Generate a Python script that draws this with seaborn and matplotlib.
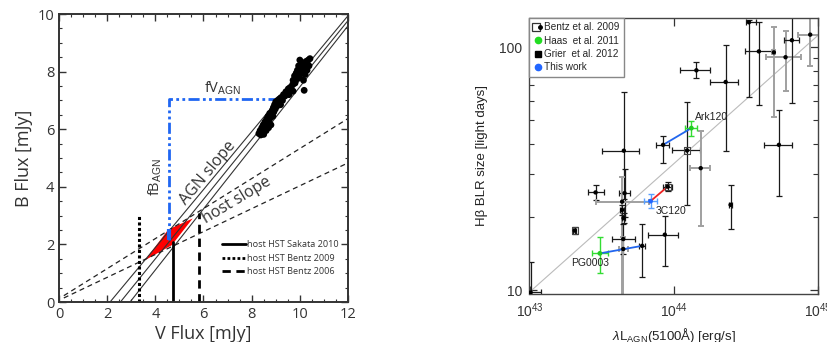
import numpy as np
import pandas as pd
import matplotlib
matplotlib.use("Agg")
import matplotlib.pyplot as plt
import seaborn as sns
from matplotlib.lines import Line2D
from matplotlib.ticker import MultipleLocator, NullFormatter, FixedLocator
from matplotlib.legend_handler import HandlerTuple

# ---------------- Left panel data ----------------
v_flux = [8.30, 8.35, 8.38, 8.42, 8.45, 8.48, 8.50, 8.52, 8.55, 8.58, 8.60, 8.62, 8.65, 8.68,
          8.70, 8.72, 8.75, 8.78, 8.80, 8.82, 8.85, 8.88, 8.90, 8.92, 8.95, 8.98, 9.00, 9.05,
          9.08, 9.10, 9.15, 9.20, 9.22, 9.28, 9.32, 9.38, 9.42, 9.48, 9.52, 9.55, 9.60, 9.65,
          9.70, 9.72, 9.72, 9.78, 9.80, 9.85, 9.88, 9.90, 9.92, 9.95, 9.98, 10.00, 10.02, 10.05,
          10.08, 10.10, 10.12, 10.15, 10.18, 10.20, 10.22, 10.25, 10.30, 10.35, 10.38, 10.42]
b_flux = [5.85, 5.95, 5.80, 6.05, 5.90, 6.15, 5.82, 6.00, 6.25, 6.10, 5.95, 6.35, 6.20, 6.45,
          6.05, 6.30, 6.55, 6.40, 6.15, 6.50, 6.65, 6.45, 6.75, 6.60, 6.85, 6.70, 6.95, 6.80,
          7.00, 6.90, 7.05, 6.85, 7.10, 7.00, 7.20, 7.15, 7.30, 7.25, 7.40, 7.20, 7.45, 7.35,
          7.55, 7.32, 7.70, 7.85, 7.60, 7.95, 7.75, 8.05, 7.90, 8.20, 7.80, 8.40, 8.10, 7.95,
          8.30, 8.00, 8.25, 7.70, 7.35, 8.15, 7.90, 8.35, 8.05, 8.40, 8.20, 8.45]

agn_x0 = [2.12, 2.55, 2.95]       # V where AGN-slope lines cross B=0
agn_yend = [9.94, 9.77, 9.59]     # B at V=12
host_x0 = [0.2, 0.2]
host_y0 = [0.22, 0.14]
host_yend = [6.37, 4.83]

host_v = [4.72, 3.32, 5.82]       # Sakata 2010, Bentz 2009, Bentz 2006
host_top = [2.09, 3.02, 3.08]
host_labels = ["host HST Sakata 2010", "host HST Bentz 2009", "host HST Bentz 2006"]
host_styles = ["-", ":", "--"]

agn_corner_v = [4.58, 4.58, 9.14]
agn_corner_b = [2.17, 7.06, 7.06]
blue_seg_b = [2.17, 2.52]

red_v = [3.57, 4.54, 5.55, 4.68]
red_b = [1.45, 2.52, 2.90, 1.97]

# ---------------- Right panel data ----------------
logL = [43.008, 43.313, 43.458, 43.488, 43.781, 43.654, 43.659, 43.642, 43.642, 43.652,
        43.650, 43.650, 43.839, 43.958, 43.938, 44.092, 44.187, 44.394, 44.729, 44.122,
        43.926, 44.157, 44.360, 44.521, 44.590, 44.694, 44.775, 44.819, 44.946]
logR = [0.990, 1.245, 1.402, 1.151, 1.182, 1.574, 1.399, 1.364, 1.330, 1.296,
        1.210, 1.169, 1.366, 1.426, 1.228, 1.575, 1.502, 1.351, 1.598, 1.667,
        1.598, 1.905, 1.857, 2.103, 1.983, 1.979, 1.959, 2.029, 2.052]
dx_lo = [0.03, 0.012, 0.055, 0.053, 0.023, 0.154, 0.040, 0.184, 0.015, 0.008,
         0.077, 0.03, 0.047, 0.030, 0.116, 0.101, 0.071, 0.010, 0.104, 0.046,
         0.046, 0.111, 0.106, 0.023, 0.094, 0.010, 0.138, 0.056, 0.086]
dx_hi = [0.07, 0.012, 0.056, 0.057, 0.023, 0.104, 0.040, 0.185, 0.015, 0.008,
         0.080, 0.03, 0.045, 0.030, 0.092, 0.088, 0.062, 0.010, 0.093, 0.042,
         0.041, 0.097, 0.085, 0.050, 0.097, 0.010, 0.109, 0.048, 0.064]
dy_lo = [0.05, 0.015, 0.033, 0.082, 0.130, 0.20, 0.10, 0.40, 0.02, 0.02,
         0.06, 0.20, 0.030, 0.020, 0.129, 0.224, 0.238, 0.100, 0.210, 0.034,
         0.073, 0.031, 0.283, 0.308, 0.220, 0.266, 0.141, 0.259, 0.130]
dy_hi = [0.124, 0.015, 0.030, 0.066, 0.089, 0.240, 0.10, 0.10, 0.02, 0.02,
         0.06, 0.05, 0.029, 0.020, 0.075, 0.198, 0.155, 0.082, 0.145, 0.028,
         0.038, 0.033, 0.154, 0.011, 0.120, 0.105, 0.107, 0.100, 0.100]
err_tone = ["k", "k", "k", "green", "k", "k", "k", "gray", "k", "k",
            "k", "gray", "blue", "k", "k", "k", "gray", "k", "k", "green",
            "k", "k", "k", "k", "k", "gray", "gray", "k", "gray"]
kind = ["dot", "box", "dot", "haas", "dot", "dot", "dot", "dot", "dot", "dot",
        "dot", "dot", "this", "box", "dot", "box", "dot", "dot", "dot", "haas",
        "dot", "dot", "dot", "dot", "dot", "dot", "dot", "dot", "dot"]
blue_links = [(3, 4), (19, 20)]
red_links = [(12, 13)]
rl_line_L = [1e43, 1e45]
rl_line_R = [9.8, 112.0]
name_labels = ["Ark120", "3C120", "PG0003"]
name_logL = [44.145, 43.873, 43.292]
name_logR = [1.714, 1.327, 1.113]
legend_labels = ["Bentz et al. 2009", "Haas  et al. 2011", "Grier  et al. 2012", "This work"]

# ---------------- Style ----------------
sns.set_style("ticks")
plt.rcParams['font.family'] = ['Open Sans', 'DejaVu Sans']
plt.rcParams['mathtext.fontset'] = 'custom'
plt.rcParams['mathtext.rm'] = 'Liberation Sans'
plt.rcParams['mathtext.it'] = 'Liberation Sans:italic'

fig = plt.figure(figsize=(8.28, 3.42), dpi=100)
axL = fig.add_axes([59 / 828, 1 - 302 / 342, 289 / 828, 288 / 342])
axR = fig.add_axes([529.5 / 828, 1 - 294 / 342, 288.5 / 828, 276 / 342])

# ---------- Left ----------
for x0, ye in zip(agn_x0, agn_yend):
    sns.lineplot(x=[x0, 12.0], y=[0.0, ye], ax=axL, color="#333333", lw=0.8, sort=False)
for x0, y0, ye in zip(host_x0, host_y0, host_yend):
    axL.plot([x0, 12.0], [y0, ye], color="#222222", lw=0.9, dashes=(4, 3))

axL.fill(red_v, red_b, color="red", lw=0)

for xv, top, ls in zip(host_v, host_top, host_styles):
    if ls == ":":
        axL.plot([xv, xv], [0, top], color="k", lw=2.2, ls=(0, (1, 0.8)))
    elif ls == "--":
        axL.plot([xv, xv], [0, top], color="k", lw=2.0, ls=(0, (3, 2)))
    else:
        axL.plot([xv, xv], [0, top], color="k", lw=2.0, ls="-")

blue = "#1f66f2"
axL.plot(agn_corner_v, agn_corner_b, color=blue, lw=2.0, ls=(0, (4, 1.2, 1, 1.2, 1, 1.2)))
axL.plot([agn_corner_v[0]] * 2, blue_seg_b, color=blue, lw=3.0, solid_capstyle="butt")

sns.scatterplot(x=v_flux, y=b_flux, ax=axL, color="k", s=24, edgecolor="none", zorder=5)

axL.text(6.02, 7.42, r"fV$_{\rm AGN}$", fontsize=10.5, color="#333333", ha="left", va="center")
axL.text(3.98, 4.35, r"fB$_{\rm AGN}$", fontsize=10.5, color="#333333", ha="center", va="center", rotation=90)
axL.text(6.2, 4.47, "AGN slope", fontsize=11.5, color="#333333", ha="center", va="center", rotation=50)
axL.text(7.37, 3.54, "host slope", fontsize=11.5, color="#333333", ha="center", va="center", rotation=31)

hL = []
for ls in host_styles:
    if ls == ":":
        hL.append(Line2D([], [], color="k", lw=2.0, ls=(0, (1, 0.8))))
    elif ls == "--":
        hL.append(Line2D([], [], color="k", lw=2.0, ls=(0, (3, 2))))
    else:
        hL.append(Line2D([], [], color="k", lw=2.0))
legL = axL.legend(hL, host_labels, loc="center left", bbox_to_anchor=(0.552, 0.152),
                  frameon=False, fontsize=6.6, handlelength=2.6, handletextpad=0.15,
                  labelspacing=0.5, borderaxespad=0, borderpad=0.4)
for t in legL.get_texts():
    t.set_color("#333333")

axL.set_xlim(0, 12)
axL.set_ylim(0, 10)
axL.xaxis.set_major_locator(MultipleLocator(2))
axL.yaxis.set_major_locator(MultipleLocator(2))
axL.xaxis.set_minor_locator(MultipleLocator(0.5))
axL.yaxis.set_minor_locator(MultipleLocator(0.5))
axL.tick_params(which="both", direction="in", top=True, right=True, colors="#333333", labelsize=10.5)
axL.tick_params(which="major", length=5, width=1)
axL.tick_params(which="minor", length=2.5, width=0.8)
for s in axL.spines.values():
    s.set_linewidth(1.4)
    s.set_color("#333333")
axL.set_xlabel("V Flux [mJy]", fontsize=13, color="#333333", labelpad=2)
axL.set_ylabel("B Flux [mJy]", fontsize=13, color="#333333", labelpad=3)

# ---------- Right ----------
L = 10 ** np.array(logL)
R = 10 ** np.array(logR)
xlo = L - 10 ** (np.array(logL) - np.array(dx_lo))
xhi = 10 ** (np.array(logL) + np.array(dx_hi)) - L
ylo = R - 10 ** (np.array(logR) - np.array(dy_lo))
yhi = 10 ** (np.array(logR) + np.array(dy_hi)) - R

axR.plot(rl_line_L, rl_line_R, color="#bbbbbb", lw=0.8, zorder=1)

tone_map = {"k": ("#1a1a1a", 0.9), "gray": ("#a0a0a0", 1.4), "green": ("#33dd33", 1.0),
            "blue": ("#5aa0ff", 1.0)}
for i in range(len(L)):
    c, lw = tone_map[err_tone[i]]
    axR.errorbar(L[i], R[i], xerr=[[xlo[i]], [xhi[i]]], yerr=[[ylo[i]], [yhi[i]]],
                 fmt="none", ecolor=c, elinewidth=lw, capsize=2.2, capthick=lw, zorder=2)

for a, b in blue_links:
    axR.plot([L[a], L[b]], [R[a], R[b]], color="#2266ee", lw=1.3, zorder=3)
for a, b in red_links:
    axR.plot([L[a], L[b]], [R[a], R[b]], color="#ee2222", lw=1.3, zorder=3)

df = pd.DataFrame({"L": L, "R": R, "kind": kind})
box = df[df.kind == "box"]
axR.scatter(box.L, box.R, marker="s", s=20, facecolor="none", edgecolor="#444444", lw=0.8, zorder=4)
sns.scatterplot(data=df[df.kind.isin(["dot", "box"])], x="L", y="R", ax=axR, color="k", s=10,
                edgecolor="none", zorder=5)
sns.scatterplot(data=df[df.kind == "haas"], x="L", y="R", ax=axR, color="#22cc22", s=12,
                edgecolor="none", zorder=5)
sns.scatterplot(data=df[df.kind == "this"], x="L", y="R", ax=axR, color="#2266ff", s=12,
                edgecolor="none", zorder=5)

for nm, lx, ly in zip(name_labels, name_logL, name_logR):
    axR.text(10 ** lx, 10 ** ly, nm, fontsize=7.5, family="Liberation Sans", color="#222222",
             ha="left", va="center")

axR.set_xscale("log")
axR.set_yscale("log")
axR.set_xlim(1e43, 1e45)
axR.set_ylim(9.63, 132)
axR.xaxis.set_major_locator(FixedLocator([1e43, 1e44, 1e45]))
axR.xaxis.set_minor_locator(FixedLocator([]))
axR.set_xticklabels([r"$10^{43}$", r"$10^{44}$", r"$10^{45}$"])
axR.yaxis.set_major_locator(FixedLocator([10, 100]))
axR.set_yticklabels(["10", "100"])
axR.yaxis.set_minor_locator(FixedLocator([20, 30, 40, 50, 60, 70, 80, 90]))
axR.yaxis.set_minor_formatter(NullFormatter())
axR.tick_params(which="both", direction="in", top=True, right=True, colors="#333333", labelsize=10)
axR.tick_params(which="major", length=6, width=0.9, pad=5)
axR.tick_params(which="minor", length=3.5, width=0.8)
for t in axR.get_xticklabels() + axR.get_yticklabels():
    t.set_family("Liberation Sans")
for s in axR.spines.values():
    s.set_linewidth(1.0)
    s.set_color("#444444")

axR.set_xlabel(r"$\lambda$L$_{\rm AGN}$(5100Å) [erg/s]", fontsize=9.5, family="Liberation Sans",
               color="#222222", labelpad=5)
axR.set_ylabel("Hβ BLR size [light days]", fontsize=9.5, family="Liberation Sans",
               color="#222222", labelpad=8)

hR = [
    (Line2D([], [], marker="s", ls="none", mfc="none", mec="#333333", ms=5.5, mew=0.9),
     Line2D([], [], marker="o", ls="none", color="k", ms=2.5)),
    Line2D([], [], marker="o", ls="none", color="#22dd22", ms=4.5),
    Line2D([], [], marker="s", ls="none", color="k", ms=4),
    Line2D([], [], marker="o", ls="none", color="#2266ff", ms=4.5),
]
legR = axR.legend(hR, legend_labels, loc="upper left", bbox_to_anchor=(0, 1), borderaxespad=0,
                  handler_map={tuple: HandlerTuple(ndivide=None, pad=0)},
                  prop={"family": "Liberation Sans", "size": 7.2}, handlelength=0.8,
                  handletextpad=0.25, labelspacing=0.33, borderpad=0.45, fancybox=False,
                  framealpha=1, edgecolor="#888888")
legR.get_frame().set_linewidth(1.0)

fig.savefig("out.png", dpi=100)
